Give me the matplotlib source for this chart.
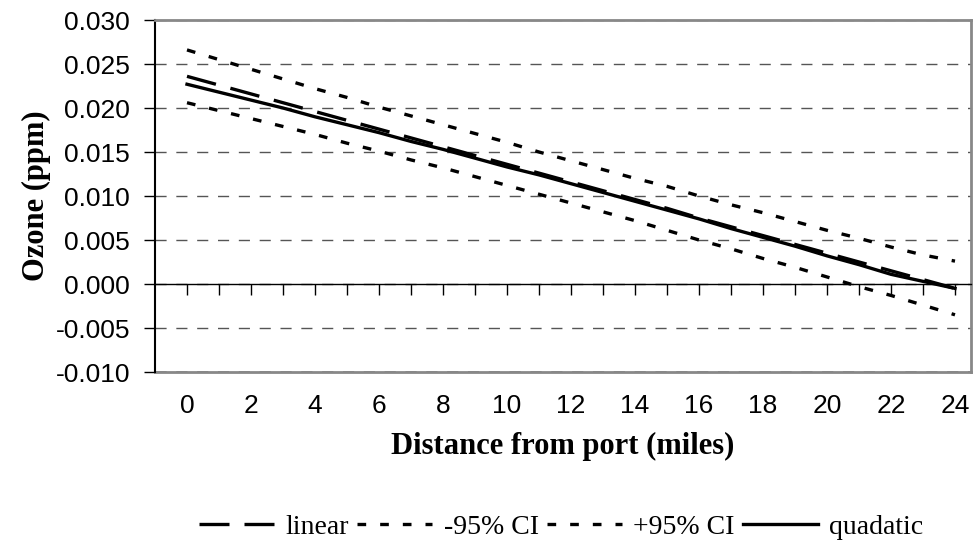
import numpy as np
import matplotlib
matplotlib.use('Agg')
import matplotlib.pyplot as plt

plt.rcParams['axes.unicode_minus'] = False

## Data (ozone in ppm vs distance in miles)
distance = list(range(0, 25))
linear = [0.0236, 0.0226, 0.0216, 0.0206, 0.0196, 0.0186, 0.0176, 0.0166, 0.0156,
          0.0146, 0.0136, 0.0126, 0.0116, 0.0106, 0.0096, 0.0086, 0.0075, 0.0065,
          0.0055, 0.0045, 0.0035, 0.0025, 0.0015, 0.0005, -0.0005]
ci_low = [0.0206, 0.0197, 0.0188, 0.0179, 0.0170, 0.0160, 0.0151, 0.0141, 0.0132,
          0.0122, 0.0112, 0.0102, 0.0092, 0.0082, 0.0072, 0.0061, 0.0050, 0.0040,
          0.0029, 0.0019, 0.0008, -0.0003, -0.0013, -0.0024, -0.0035]
ci_high = [0.0266, 0.0255, 0.0244, 0.0233, 0.0222, 0.0212, 0.0201, 0.0191, 0.0181,
           0.0171, 0.0161, 0.0150, 0.0140, 0.0130, 0.0120, 0.0111, 0.0100, 0.0090,
           0.0081, 0.0071, 0.0061, 0.0052, 0.0042, 0.0033, 0.0026]
quadratic = [0.0227, 0.0218, 0.0209, 0.0200, 0.0190, 0.0181, 0.0172, 0.0162, 0.0153,
             0.0143, 0.0133, 0.0124, 0.0114, 0.0104, 0.0094, 0.0084, 0.0074, 0.0063,
             0.0053, 0.0043, 0.0032, 0.0022, 0.0011, 0.0003, -0.0005]
x_labels = list(range(0, 25, 2))
y_ticks = [-0.010, -0.005, 0.000, 0.005, 0.010, 0.015, 0.020, 0.025, 0.030]

fig = plt.figure(figsize=(9.76, 5.52), dpi=100)
ax = fig.add_axes([155/976, 1 - 372/552, 816/976, 352/552])

ax.plot(distance, linear, color='black', lw=2.4, dashes=(9, 4.5), label='linear')
ax.plot(distance, ci_low, color='black', lw=2.4, dashes=(2.6, 4.2), label='-95% CI')
ax.plot(distance, ci_high, color='black', lw=2.4, dashes=(2.6, 4.2), label='+95% CI')
ax.plot(distance, quadratic, color='black', lw=2.4, label='quadatic')

ax.set_xlim(-1, 24.5)
ax.set_ylim(-0.010, 0.030)
ax.set_yticks(y_ticks)
ax.set_yticklabels(['%.3f' % v for v in y_ticks], fontname='Liberation Sans', fontsize=19)
ax.tick_params(axis='y', direction='out', length=8, width=1, pad=10)
ax.yaxis.grid(True, color='#555555', lw=1, dashes=(8, 7))
ax.set_axisbelow(True)

# x axis line crossing at zero, tick marks every mile, no labels there
ax.spines['bottom'].set_position(('data', 0))
ax.spines['bottom'].set_linewidth(1)
ax.set_xticks(range(0, 25))
ax.set_xticklabels([])
ax.tick_params(axis='x', direction='out', length=8, width=1)

ax.spines['left'].set_linewidth(1.5)
for s in ['top', 'right']:
    ax.spines[s].set_color('#888888')
    ax.spines[s].set_linewidth(2)

# labels sit at the bottom of the plot area
sec = ax.secondary_xaxis(0)
sec.set_xticks(x_labels)
sec.set_xticklabels([str(v) for v in x_labels], fontname='Liberation Sans', fontsize=19)
sec.tick_params(length=0, pad=16)
sec.spines['bottom'].set_color('#888888')
sec.spines['bottom'].set_linewidth(2)
sec.set_xlabel('Distance from port (miles)', fontname='Liberation Serif',
               fontweight='bold', fontsize=22, labelpad=10)

ax.set_ylabel('Ozone (ppm)', fontname='Liberation Serif', fontweight='bold', fontsize=22)
ax.yaxis.set_label_coords(-0.128, 0.5)

fig.legend(loc='center', bbox_to_anchor=(0.575, 0.045), ncol=4, frameon=False,
           prop={'family': 'Liberation Serif', 'size': 20}, handlelength=2.7,
           handletextpad=0.4, columnspacing=0.3)

fig.savefig('out.png', dpi=100)
